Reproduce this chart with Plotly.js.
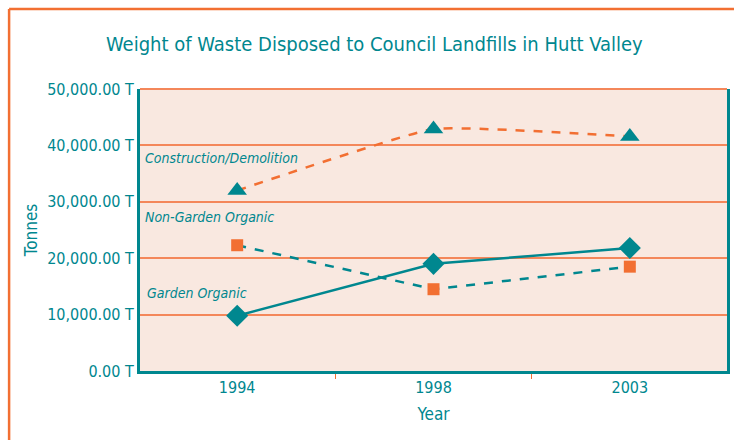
<!DOCTYPE html>
<html>
<head>
<meta charset="utf-8">
<script src="https://cdn.plot.ly/plotly-3.0.1.min.js"></script>
<style>
  body { margin: 0; background: #fff; }
  #chart { width: 734px; height: 440px; }
</style>
</head>
<body>
<div id="chart"></div>
<script>
// waste data, tonnes
var years = ['1994', '1998', '2003'];
var construction = [32000, 42900, 41600];
var nonGarden = [22300, 14500, 18500];
var garden = [9800, 19000, 21800];
var yTicks = [0, 10000, 20000, 30000, 40000, 50000];
var yTickText = yTicks.map(function(v) {
  return v.toLocaleString('en-US', {minimumFractionDigits: 2, maximumFractionDigits: 2}) + ' T';
});

var teal = '#00878f';
var orange = '#f26f32';
var fontFam = '"DejaVu Sans Condensed", "Liberation Sans Narrow", "Noto Sans", sans-serif';

var constr = {
  x: years,
  y: construction,
  name: 'Construction/Demolition',
  type: 'scatter',
  mode: 'lines+markers',
  line: {color: orange, width: 2.5, dash: 'dash', shape: 'spline', smoothing: 0.35},
  marker: {symbol: 'triangle-up', size: 17, color: teal}
};

var nonGard = {
  x: years,
  y: nonGarden,
  name: 'Non-Garden Organic',
  type: 'scatter',
  mode: 'lines+markers',
  line: {color: teal, width: 2.5, dash: 'dash'},
  marker: {symbol: 'square', size: 12, color: orange}
};

var gard = {
  x: years,
  y: garden,
  name: 'Garden Organic',
  type: 'scatter',
  mode: 'lines+markers',
  line: {color: teal, width: 2.5},
  marker: {symbol: 'diamond', size: 17, color: teal}
};

var layout = {
  width: 734,
  height: 440,
  showlegend: false,
  paper_bgcolor: '#ffffff',
  plot_bgcolor: '#f9e8e0',
  font: {family: fontFam, color: teal, size: 15},
  margin: {l: 140, r: 7, t: 89, b: 69},
  title: {
    text: 'Weight of Waste Disposed to Council Landfills in Hutt Valley',
    font: {size: 20, color: teal},
    x: 0.51, xanchor: 'center',
    y: 0.9, yanchor: 'middle'
  },
  xaxis: {
    type: 'category',
    range: [-0.495, 2.495],
    title: {text: 'Year', font: {size: 17, color: teal}, standoff: 12},
    showline: true, linecolor: teal, linewidth: 3,
    showgrid: false, zeroline: false,
    ticks: 'outside', tickson: 'boundaries', tickcolor: orange, ticklen: 5, tickwidth: 1,
    tickfont: {size: 16, color: teal}
  },
  yaxis: {
    title: {text: 'Tonnes', font: {size: 17, color: teal}, standoff: 6},
    range: [0, 50000],
    tickmode: 'array',
    tickvals: yTicks,
    ticktext: yTickText,
    showline: true, linecolor: teal, linewidth: 3, mirror: true,
    gridcolor: '#f4875a', gridwidth: 1.5,
    zeroline: false,
    ticks: '',
    tickfont: {size: 16, color: teal}
  },
  annotations: [
    {text: '<i>Construction/Demolition</i>', xref: 'paper', yref: 'y', x: 0.005, y: 37700,
     xanchor: 'left', yanchor: 'middle', showarrow: false, font: {size: 14, color: teal}},
    {text: '<i>Non-Garden Organic</i>', xref: 'paper', yref: 'y', x: 0.005, y: 27300,
     xanchor: 'left', yanchor: 'middle', showarrow: false, font: {size: 14, color: teal}},
    {text: '<i>Garden Organic</i>', xref: 'paper', yref: 'y', x: 0.008, y: 13900,
     xanchor: 'left', yanchor: 'middle', showarrow: false, font: {size: 14, color: teal}}
  ],
  shapes: [
    // orange top edge of plot area
    {type: 'line', xref: 'paper', yref: 'paper', x0: 0, x1: 1, y0: 1, y1: 1,
     line: {color: '#f4875a', width: 2}},
    // outer orange frame, left and top sides
    {type: 'line', xref: 'paper', yref: 'paper', x0: -0.223, x1: 1.02, y0: 1.284, y1: 1.284,
     line: {color: orange, width: 2.5}},
    {type: 'line', xref: 'paper', yref: 'paper', x0: -0.223, x1: -0.223, y0: 1.284, y1: -0.25,
     line: {color: orange, width: 2.5}}
  ]
};

Plotly.newPlot('chart', [constr, nonGard, gard], layout, {displayModeBar: false, responsive: true});
</script>
</body>
</html>
